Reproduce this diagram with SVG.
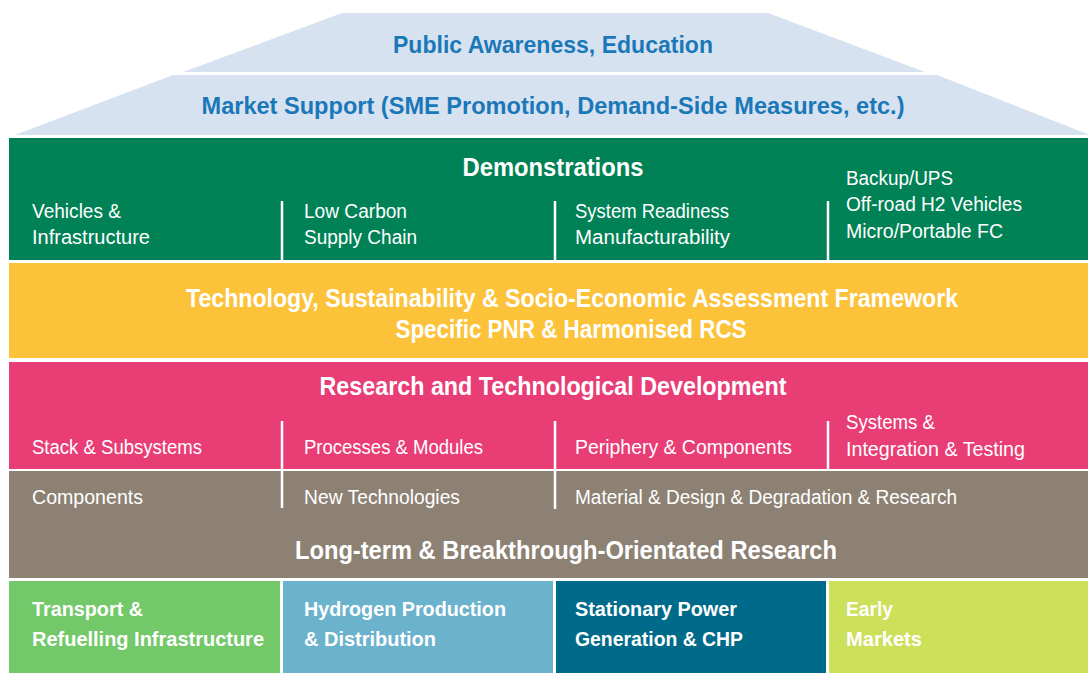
<svg xmlns="http://www.w3.org/2000/svg" width="1088" height="673" viewBox="0 0 1088 673">
<style>
text{font-family:"Liberation Sans","Noto Sans",Arial,sans-serif;fill:#fff}
.h{font-weight:bold;font-size:25px;text-anchor:middle}
.s{font-size:20px}
.b{font-weight:bold;font-size:21px}
.roof{fill:#d7e2f1}
.rt{fill:#1a78b8;font-weight:bold;font-size:24px;text-anchor:middle}
.div{stroke:#fff;stroke-width:2.5;fill:none}
</style>
<rect width="1088" height="673" fill="#fff"/>
<g id="roof-public">
<polygon class="roof" points="342,13 768,13 925,72 183,72"/>
<text class="rt" x="553" y="53" textLength="320" lengthAdjust="spacingAndGlyphs">Public Awareness, Education</text>
</g>
<g id="roof-market">
<polygon class="roof" points="173,75 937,75 1090,135 15,135"/>
<text class="rt" x="553" y="114" textLength="703" lengthAdjust="spacingAndGlyphs">Market Support (SME Promotion, Demand-Side Measures, etc.)</text>
</g>
<g id="demonstrations">
<rect x="9" y="138" width="1079" height="122" fill="#008256"/>
<text class="h" x="553" y="176" textLength="181" lengthAdjust="spacingAndGlyphs">Demonstrations</text>
<text class="s" x="32" y="218" textLength="89" lengthAdjust="spacingAndGlyphs">Vehicles &amp;</text>
<text class="s" x="32" y="244" textLength="118" lengthAdjust="spacingAndGlyphs">Infrastructure</text>
<text class="s" x="304" y="218" textLength="103" lengthAdjust="spacingAndGlyphs">Low Carbon</text>
<text class="s" x="304" y="244" textLength="113" lengthAdjust="spacingAndGlyphs">Supply Chain</text>
<text class="s" x="575" y="218" textLength="154" lengthAdjust="spacingAndGlyphs">System Readiness</text>
<text class="s" x="575" y="244" textLength="155" lengthAdjust="spacingAndGlyphs">Manufacturability</text>
<text class="s" x="846" y="185" textLength="107" lengthAdjust="spacingAndGlyphs">Backup/UPS</text>
<text class="s" x="846" y="211" textLength="176" lengthAdjust="spacingAndGlyphs">Off-road H2 Vehicles</text>
<text class="s" x="846" y="238" textLength="157" lengthAdjust="spacingAndGlyphs">Micro/Portable FC</text>
</g>
<g id="assessment">
<rect x="9" y="263" width="1079" height="95" fill="#fcc23a"/>
<text class="h" x="572" y="307" textLength="772" lengthAdjust="spacingAndGlyphs">Technology, Sustainability &amp; Socio-Economic Assessment Framework</text>
<text class="h" x="571" y="338" textLength="351" lengthAdjust="spacingAndGlyphs">Specific PNR &amp; Harmonised RCS</text>
</g>
<g id="rtd">
<rect x="9" y="362" width="1079" height="107" fill="#e93d76"/>
<text class="h" x="553" y="395" textLength="467" lengthAdjust="spacingAndGlyphs">Research and Technological Development</text>
<text class="s" x="32" y="454" textLength="170" lengthAdjust="spacingAndGlyphs">Stack &amp; Subsystems</text>
<text class="s" x="304" y="454" textLength="179" lengthAdjust="spacingAndGlyphs">Processes &amp; Modules</text>
<text class="s" x="575" y="454" textLength="217" lengthAdjust="spacingAndGlyphs">Periphery &amp; Components</text>
<text class="s" x="846" y="429" textLength="89" lengthAdjust="spacingAndGlyphs">Systems &amp;</text>
<text class="s" x="846" y="456" textLength="179" lengthAdjust="spacingAndGlyphs">Integration &amp; Testing</text>
</g>
<g id="long-term">
<rect x="9" y="471" width="1079" height="107" fill="#8d8174"/>
<text class="s" x="32" y="504" textLength="111" lengthAdjust="spacingAndGlyphs">Components</text>
<text class="s" x="304" y="504" textLength="156" lengthAdjust="spacingAndGlyphs">New Technologies</text>
<text class="s" x="575" y="504" textLength="382" lengthAdjust="spacingAndGlyphs">Material &amp; Design &amp; Degradation &amp; Research</text>
<text class="h" x="566" y="559" textLength="542" lengthAdjust="spacingAndGlyphs">Long-term &amp; Breakthrough-Orientated Research</text>
</g>
<g id="transport">
<rect x="9" y="581" width="271" height="92" fill="#73c86a"/>
<text class="b" x="32" y="616" textLength="111" lengthAdjust="spacingAndGlyphs">Transport &amp;</text>
<text class="b" x="32" y="646" textLength="232" lengthAdjust="spacingAndGlyphs">Refuelling Infrastructure</text>
</g>
<g id="hydrogen">
<rect x="283" y="581" width="270" height="92" fill="#6bb2cd"/>
<text class="b" x="304" y="616" textLength="202" lengthAdjust="spacingAndGlyphs">Hydrogen Production</text>
<text class="b" x="304" y="646" textLength="132" lengthAdjust="spacingAndGlyphs">&amp; Distribution</text>
</g>
<g id="stationary">
<rect x="556" y="581" width="270" height="92" fill="#006a8a"/>
<text class="b" x="575" y="616" textLength="162" lengthAdjust="spacingAndGlyphs">Stationary Power</text>
<text class="b" x="575" y="646" textLength="168" lengthAdjust="spacingAndGlyphs">Generation &amp; CHP</text>
</g>
<g id="early-markets">
<rect x="829" y="581" width="259" height="92" fill="#cde05a"/>
<text class="b" x="846" y="616" textLength="47" lengthAdjust="spacingAndGlyphs">Early</text>
<text class="b" x="846" y="646" textLength="76" lengthAdjust="spacingAndGlyphs">Markets</text>
</g>
<g id="connectors">
<path class="div" d="M282,201V260M555,201V263M828,201V260"/>
<path class="div" d="M282,421V508M555,421V509M828,421V469"/>
</g>
</svg>
